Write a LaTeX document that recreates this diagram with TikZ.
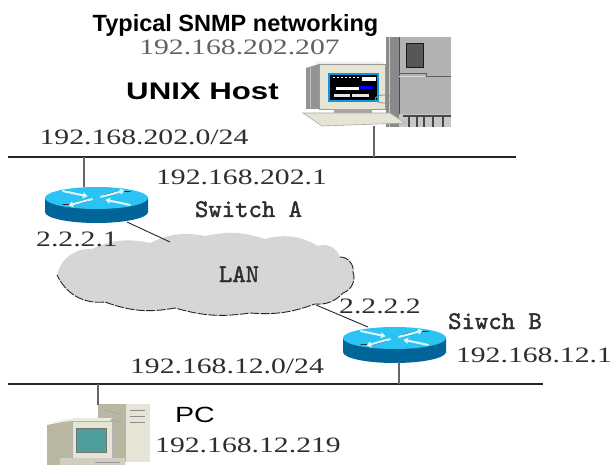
\documentclass[tikz,border=0pt]{standalone}
\usepackage{fontspec}
\setmainfont{Liberation Serif}
\newfontfamily\titlesans{Liberation Sans}
\newfontfamily\widesans[FakeStretch=1.3]{Liberation Sans}
\newfontfamily\ipfont[FakeStretch=1.35]{Liberation Serif}
\newfontfamily\monolbl[FakeBold=1.6]{lmmono10-regular.otf}
\usetikzlibrary{arrows.meta}

\definecolor{routertop}{HTML}{2BC3F3}
\definecolor{routerside}{HTML}{02659A}
\definecolor{cloudgray}{HTML}{D6D6D6}
\definecolor{beige}{HTML}{E6E5D5}
\definecolor{beigedark}{HTML}{B9B6A2}
\definecolor{pcteal}{HTML}{4E9E9C}

\tikzset{
  pics/ciscorouter/.style={code={
    % cylinder wall
    \fill[routerside] (-51.5,0) -- (-51.5,14)
      arc[start angle=180,end angle=0,x radius=51.5,y radius=11] -- (51.5,0) -- cycle;
    % top face
    \fill[routertop] (0,0) ellipse[x radius=51.5,y radius=11];
    % arrow shadows
    \draw[black!80,line width=0.9pt] (8,-3) -- (22,-6.5) -- (34,-6.5);
    \draw[black!80,line width=0.9pt] (-8,3) -- (-22,6.5) -- (-34,6.5);
    % crossing arrows
    \draw[white!85!routertop,line width=2pt,-{Triangle[width=6pt,length=4.5pt]}] (4,-1) -- (28,-7.5);
    \draw[white!85!routertop,line width=2pt,-{Triangle[width=6pt,length=4.5pt]}] (-4,1) -- (-28,7.5);
    \draw[white!85!routertop,line width=2pt,-{Triangle[width=6pt,length=4.5pt]}] (-34,-7) -- (-9,-1.8);
    \draw[white!85!routertop,line width=2pt,-{Triangle[width=6pt,length=4.5pt]}] (34,7) -- (9,1.8);
  }}
}

\begin{document}
\begin{tikzpicture}[x=1pt,y=-1pt,
  ip/.style={font=\ipfont\fontsize{22}{22}\selectfont,text=black!82,inner sep=0pt,anchor=base},
  lbl/.style={font=\monolbl\fontsize{25.5}{25.5}\selectfont,text=black!82,inner sep=0pt,anchor=base},
  bus/.style={line width=1.4pt,draw=black!85},
  drop/.style={line width=1.6pt,draw=black!60},
  link/.style={line width=0.9pt,draw=black!85},
]
\useasboundingbox[fill=white] (0,0) rectangle (613,465);

% ---------- UNIX workstation ----------
% server tower
\fill[black!30] (386,37) rectangle (451,127);
\fill[black!46] (386,37) rectangle (399,127);
\draw[black!20,line width=1pt] (389,37) -- (389,127);
\draw[black!70,line width=0.8pt] (399,37) -- (399,127);
\filldraw[fill=black!66,draw=black!90,line width=0.8pt] (406,43) rectangle (423,67);
\draw[black!62,line width=1pt] (399,74) -- (426,74) -- (426,76.5) -- (451,76.5);
\draw[black!15,line width=0.8pt] (399,76) -- (425,76);
\fill[black!22] (399,114) rectangle (451,127);
\foreach \fx in {409,417,424,433,443}
  \draw[black!72,line width=1.4pt] (\fx,116) -- (\fx,127);
\draw[black!72,line width=1.2pt] (403,116) -- (451,116);
% monitor
\fill[black!42] (306,68) -- (319,64) -- (319,109) -- (306,109) -- cycle;
\draw[black!25,line width=0.8pt] (310,67) -- (310,108);
\filldraw[fill=beige,draw=black!40,line width=0.6pt] (319,64) rectangle (385,109);
\fill[beige!70!white] (314,62) -- (380,62) -- (385,64) -- (319,64) -- cycle;
\filldraw[fill=black,draw=cyan!85!blue,line width=1.5pt] (329,74) rectangle (378,101);
\draw[white,line width=1pt,dash pattern=on 2pt off 2pt] (333,77.5) -- (360,77.5);
\fill[white] (362,77) rectangle (376,81);
\fill[white] (336,87) rectangle (359,90);
\fill[blue] (360,86.5) rectangle (373,89);
\fill[black!10] (334,94) rectangle (350,97);
\fill[black!10] (352,94) rectangle (369,97);
\draw[black!45,line width=0.8pt] (384,99) ellipse[x radius=9,y radius=4];
\fill[black!35] (334,109) rectangle (372,113);
% keyboard
\filldraw[fill=beige,draw=black!35,line width=0.6pt]
  (303,113) -- (390,113) -- (405,123) -- (322,126) -- cycle;
\coordinate (hostBase) at (374,126);

% ---------- upper segment ----------
\coordinate (busTopL) at (8,157);
\coordinate (busTopR) at (516,157);
\draw[bus] (busTopL) -- (busTopR);
\draw[drop] (hostBase) -- (hostBase |- busTopL);

% ---------- switch A ----------
\coordinate (ra) at (96.5,198);
\pic at (ra) {ciscorouter};
\coordinate (raUp) at (84,187);
\coordinate (raLink) at (127,222);
\draw[drop] (raUp) -- (raUp |- busTopL);

% ---------- LAN cloud ----------
\fill[cloudgray]
  (57,275) to[bend left=40] (92,249) to[bend left=18] (150,243)
  to[bend left=18] (205,236) to[bend left=15] (265,239)
  to[bend left=22] (318,246) to[bend left=45] (340,257)
  to[bend left=50] (353,272) to[bend left=45] (343,293)
  to[bend left=25] (315,304) to[bend left=12] (250,313)
  to[bend left=12] (175,308) to[bend left=15] (105,302)
  to[bend left=35] (57,275) -- cycle;
\draw[black!85,line width=0.9pt,dash pattern=on 9pt off 1.5pt]
  (340,257) to[bend left=50] (353,272) to[bend left=45] (343,293)
  to[bend left=25] (315,304) to[bend left=12] (250,313)
  to[bend left=12] (175,308) to[bend left=15] (105,302)
  to[bend left=35] (57,275);
\node[lbl] (lan) at (239,282) {LAN};
\coordinate (lanNW) at (170,242);
\coordinate (lanSE) at (316,305);
\draw[link] (raLink) -- (lanNW);

% ---------- switch B ----------
\coordinate (rb) at (394.5,338);
\pic at (rb) {ciscorouter};
\coordinate (rbLink) at (368,327);
\coordinate (rbDown) at (399,362);
\draw[link] (lanSE) -- (rbLink);

% ---------- lower segment ----------
\coordinate (busBotL) at (8,384);
\coordinate (busBotR) at (543,384);
\draw[bus] (busBotL) -- (busBotR);
\draw[drop] (rbDown) -- (rbDown |- busBotL);

% ---------- PC ----------
% tower
\fill[beigedark] (98,404) rectangle (150,462);
\fill[beige] (126,404) rectangle (150,462);
\foreach \dy in {410,416,422}
  \draw[black!45,line width=0.8pt] (130,\dy) -- (145,\dy);
\draw[black!35,line width=0.8pt] (104,410) -- (120,414);
\draw[black!35,line width=0.8pt] (104,418) -- (120,422);
% monitor
\fill[beigedark] (47,425) -- (72,420) -- (72,465) -- (47,465) -- cycle;
\fill[beige!80!white] (50,423) -- (74,418) -- (112,418) -- (110,421) -- (72,421) -- cycle;
\filldraw[fill=beige,draw=black!30,line width=0.5pt] (72,421) rectangle (112,460);
\filldraw[fill=pcteal,draw=black!55,line width=0.8pt] (76,428) rectangle (106,452);
\fill[beige!90!black] (60,458) rectangle (125,465);
\draw[black!40,line width=0.6pt] (95,462) -- (120,462);
\coordinate (pcTop) at (98,405);
\draw[drop] (pcTop) -- (pcTop |- busBotL);

% ---------- labels ----------
\node[font=\titlesans\bfseries\fontsize{23.5}{24}\selectfont,anchor=base,inner sep=0pt]
  (title) at (235.5,32) {Typical SNMP networking};
\node[ip,text=black!62] (hostip) at (239.5,55) {192.168.202.207};
\node[font=\widesans\bfseries\fontsize{24}{24}\selectfont,anchor=base,inner sep=0pt]
  (hostname) at (202.5,100) {UNIX Host};
\node[ip] (net1) at (144,145) {192.168.202.0/24};
\node[ip] (raip) at (241.5,185) {192.168.202.1};
\node[lbl] (swa) at (248.5,217) {Switch A};
\node[ip] (raport) at (77,247) {2.2.2.1};
\node[ip] (rbport) at (380,313) {2.2.2.2};
\node[lbl] (swb) at (495,329) {Siwch B};
\node[ip] (rbip) at (534,362) {192.168.12.1};
\node[ip] (net2) at (227,373) {192.168.12.0/24};
\node[font=\widesans\fontsize{22}{22}\selectfont,anchor=base,inner sep=0pt]
  (pcname) at (195,422) {PC};
\node[ip] (pcip) at (248,452) {192.168.12.219};
\end{tikzpicture}
\end{document}
